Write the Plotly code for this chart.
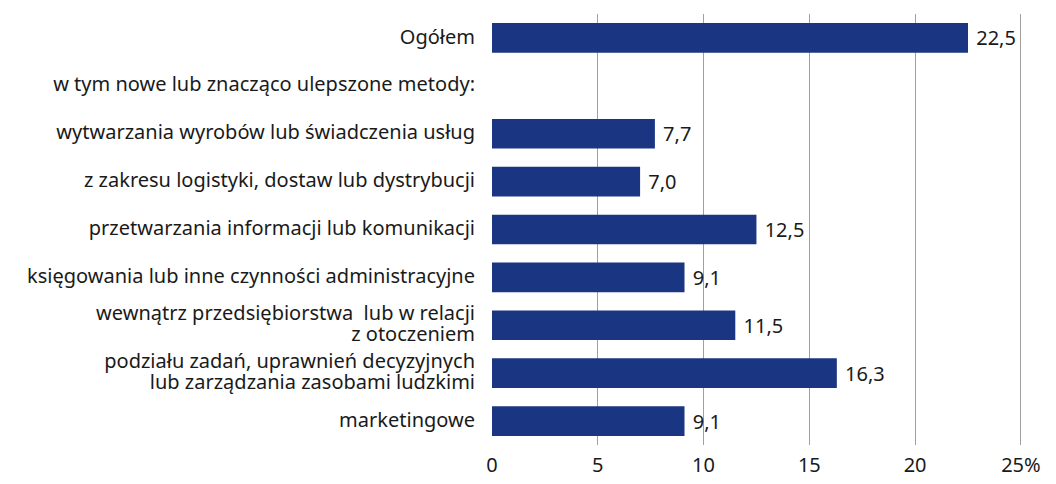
import plotly.graph_objects as go

categories = [
    "Ogółem",
    "w tym nowe lub znacząco ulepszone metody:",
    "wytwarzania wyrobów lub świadczenia usług",
    "z zakresu logistyki, dostaw lub dystrybucji",
    "przetwarzania informacji lub komunikacji",
    "księgowania lub inne czynności administracyjne",
    "wewnątrz przedsiębiorstwa  lub w relacji<br>z otoczeniem",
    "podziału zadań, uprawnień decyzyjnych<br>lub zarządzania zasobami ludzkimi",
    "marketingowe",
]
values = [22.5, None, 7.7, 7.0, 12.5, 9.1, 11.5, 16.3, 9.1]
tick_vals = [0, 5, 10, 15, 20, 25]
tick_text = ["0", "5", "10", "15", "20", "25%"]

labels = [("" if v is None else " " + f"{v:.1f}".replace(".", ",")) for v in values]

FONT = "Noto Sans, Open Sans, sans-serif"
FS = 20


def big(s):
    # keep glyphs at FS while the line spacing follows the smaller base size
    return "<br>".join(f'<span style="font-size:{FS}px">{p}</span>' for p in s.split("<br>"))


cat_text = [big(c) for c in categories]

fig = go.Figure(
    go.Bar(
        y=categories,
        x=values,
        orientation="h",
        marker=dict(color="#1a3683", line=dict(width=0)),
        width=0.62,
        text=labels,
        textposition="outside",
        textfont=dict(size=FS, color="#1a1a1a", family=FONT),
        cliponaxis=False,
        hoverinfo="skip",
    )
)

fig.update_layout(
    width=1048,
    height=476,
    margin=dict(l=484, r=33, t=6, b=39, autoexpand=False),
    paper_bgcolor="white",
    plot_bgcolor="white",
    showlegend=False,
    font=dict(family=FONT, size=FS, color="#1a1a1a"),
    xaxis=dict(
        range=[0, 25.1],
        tickvals=tick_vals,
        ticktext=tick_text,
        showgrid=True,
        gridcolor="#a0a0a0",
        gridwidth=1,
        zeroline=False,
        showline=False,
        ticks="",
        automargin=False,
        ticklabelstandoff=6,
        tickfont=dict(size=FS, color="#1a1a1a"),
    ),
    yaxis=dict(
        autorange="reversed",
        tickmode="array",
        tickvals=categories,
        ticktext=cat_text,
        showgrid=False,
        zeroline=False,
        showline=False,
        ticks="",
        automargin=False,
        ticklabelstandoff=16,
        tickfont=dict(size=16, color="#1a1a1a"),
    ),
)

fig.write_html("out.html")
